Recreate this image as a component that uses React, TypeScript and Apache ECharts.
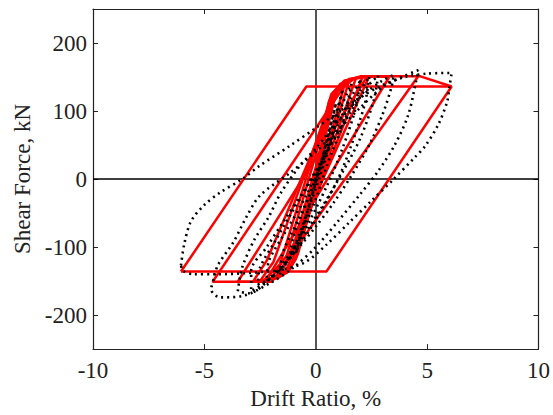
import React, { useEffect, useRef } from "react";
import * as echarts from "echarts";

// ---- Axis settings ----
const xTicks = [-10, -5, 0, 5, 10];
const yTicks = [-200, -100, 0, 100, 200];

// ---- Analytical model (red, solid) loops: [drift %, shear kN] ----
const model1 = [[-6.05, -136], [-0.42, 136], [6.1, 136], [0.48, -136], [-6.05, -136]];
const model2 = [[4.6, 151], [-1.97, -151], [-4.63, -151], [1.47, 146], [2.0, 151], [4.7, 151], [6.1, 136]];
const model3 = [[3.3, 150], [-2.27, -151], [-3.5, -151], [-0.54, 3], [2.25, 148], [2.6, 151], [3.3, 150]];
const model4 = [[2.4, 151], [-1.6, -140], [-1.9, -147], [-2.8, -150], [-2.2, -120], [0.5, 90], [1.0, 130], [1.7, 147], [2.4, 151]];
const model5 = [[1.8, 148], [-1.1, -125], [-1.5, -142], [-2.3, -148], [-1.6, -125], [0.35, 85], [0.7, 125], [1.3, 145], [1.8, 148]];
const model6 = [[1.3, 140], [-0.8, -110], [-1.2, -135], [-1.7, -145], [-1.1, -110], [0.2, 40], [0.5, 100], [0.9, 130], [1.3, 140]];
const model7 = [[0.9, 125], [-0.5, -60], [-1.0, -115], [-0.5, -55], [0.4, 70], [0.9, 125]];
const model8 = [[0.5, 80], [-0.3, -30], [-0.55, -78], [0.25, 25], [0.5, 80]];
const model9 = [[2.1, 150], [-1.3, -132], [-1.7, -146], [-2.5, -150], [-1.9, -122], [0.45, 95], [0.8, 128], [1.5, 147], [2.1, 150]];
const model10 = [[1.5, 145], [-0.9, -118], [-1.3, -138], [-2.0, -146], [-1.3, -112], [0.3, 70], [0.6, 115], [1.1, 140], [1.5, 145]];

// ---- Test (black, dotted) loops ----
const test1 = [
  [-6.05, -127], [-5.9, -95], [-5.6, -62], [-5.0, -38], [-4.3, -20], [-3.3, 0], [-2.5, 20], [-1.2, 48],
  [0, 75], [1, 98], [2, 120], [3, 138], [4, 150], [5, 155], [6.1, 156],
  [6.0, 135], [5.9, 114], [5.5, 80], [4.9, 48], [4.45, 32], [3.5, 0], [2.5, -32], [1.5, -64], [0.5, -96],
  [-0.46, -122], [-1.5, -133], [-3, -138], [-4.5, -140], [-5.5, -140], [-5.95, -135], [-6.05, -127],
];
const test2 = [
  [-4.6, -150], [-4.4, -127], [-3.7, -93], [-3.1, -55], [-2.5, -24], [-1.2, 8], [0, 40], [1, 72], [2, 105],
  [3, 135], [4, 152], [4.6, 160],
  [4.5, 143], [4.15, 94], [3.56, 51], [2.81, 12], [2, -22], [1, -62], [0, -100], [-1, -130], [-2, -152],
  [-3.3, -172], [-4.3, -174], [-4.7, -162], [-4.6, -150],
];
const test3 = [
  [-3.5, -165], [-3.3, -130], [-2.77, -90], [-2.1, -55], [-1.58, -21], [-0.7, 20], [0, 45], [1, 85],
  [2, 120], [3, 145], [3.5, 153],
  [3.4, 135], [3.0, 95], [2.4, 50], [1.6, 5], [0.8, -35], [0, -70], [-1, -110], [-2, -145], [-3, -168], [-3.5, -165],
];
const test4 = [
  [2.4, 150], [2.2, 110], [1.6, 50], [1, 0], [0, -60], [-1, -110], [-2, -145], [-2.6, -155],
  [-2.5, -130], [-1.8, -90], [-1, -45], [0, 10], [1, 70], [2, 130], [2.4, 150],
];
const test5 = [
  [1.6, 140], [1.2, 80], [0.5, 20], [0, -30], [-0.8, -90], [-1.6, -140],
  [-1.5, -110], [-0.8, -60], [0, -5], [0.6, 50], [1.2, 110], [1.6, 140],
];
const test6 = [[0.9, 110], [0.3, 30], [-0.3, -40], [-0.9, -110], [-0.4, -50], [0.2, 20], [0.9, 110]];
const test7 = [
  [2.0, 145], [1.8, 105], [1.2, 45], [0.5, -10], [-0.5, -75], [-1.5, -125], [-2.2, -150],
  [-2.1, -120], [-1.4, -80], [-0.6, -35], [0.3, 25], [1.2, 95], [2.0, 145],
];
const test8 = [[1.2, 130], [0.8, 70], [0.2, 5], [-0.5, -60], [-1.2, -120], [-1.0, -85], [-0.3, -25], [0.4, 40], [1.2, 130]];
const test9 = [
  [2.8, 152], [2.6, 115], [2.0, 60], [1.2, 10], [0.3, -40], [-0.8, -95], [-1.8, -140], [-2.9, -165],
  [-2.9, -135], [-2.2, -100], [-1.4, -60], [-0.5, -15], [0.5, 40], [1.5, 95], [2.3, 135], [2.8, 152],
];

const modelLoops = [model1, model2, model3, model4, model9, model5, model10, model6, model7, model8];
const testLoops = [test1, test2, test3, test9, test4, test7, test5, test8, test6];

const FONT = "Liberation Serif";
const TEXT = "#222";

export default function App() {
  const ref = useRef<HTMLDivElement>(null);
  useEffect(() => {
    if (!ref.current) return;
    const chart = echarts.init(ref.current, undefined, { renderer: "svg" });
    const labelStyle = { fontFamily: FONT, fontSize: 23, color: TEXT };
    const series: any[] = [];
    modelLoops.forEach((d, i) => {
      series.push({
        type: "line",
        data: d,
        showSymbol: false,
        symbol: "none",
        lineStyle: { color: "#ff0000", width: 2.5 },
        z: 2,
        markLine:
          i === 0
            ? {
                silent: true,
                symbol: "none",
                label: { show: false },
                z: 1,
                data: [
                  { xAxis: 0, lineStyle: { color: "#555", width: 2, type: "solid" } },
                  { yAxis: 0, lineStyle: { color: "#000", width: 1.5, type: "solid" } },
                ],
              }
            : undefined,
      });
    });
    testLoops.forEach((d) => {
      series.push({
        type: "line",
        data: d,
        showSymbol: false,
        symbol: "none",
        smooth: 0.3,
        lineStyle: { color: "#000", width: 2.6, type: [2, 4], cap: "butt" },
        z: 3,
      });
    });
    chart.setOption({
      animation: false,
      backgroundColor: "#fff",
      grid: { left: 93, right: 12, top: 9, bottom: 60, containLabel: false },
      xAxis: [
        {
          type: "value",
          min: -10,
          max: 10,
          interval: 5,
          position: "bottom",
          axisLine: { show: true, onZero: false, lineStyle: { color: "#222", width: 1.2 } },
          axisTick: { show: true, inside: true, length: 5, lineStyle: { color: "#222" } },
          axisLabel: { ...labelStyle, margin: 10, customValues: xTicks },
          splitLine: { show: false },
          name: "Drift Ratio, %",
          nameLocation: "middle",
          nameGap: 36,
          nameTextStyle: labelStyle,
        },
        {
          type: "value",
          min: -10,
          max: 10,
          interval: 5,
          position: "top",
          axisLine: { show: true, onZero: false, lineStyle: { color: "#222", width: 1.2 } },
          axisTick: { show: true, inside: true, length: 5, lineStyle: { color: "#222" } },
          axisLabel: { show: false },
          splitLine: { show: false },
        },
      ],
      yAxis: [
        {
          type: "value",
          min: -250,
          max: 250,
          position: "left",
          axisLine: { show: true, onZero: false, lineStyle: { color: "#222", width: 1.2 } },
          axisTick: { show: true, inside: true, length: 5, customValues: yTicks, lineStyle: { color: "#222" } },
          axisLabel: { ...labelStyle, margin: 6, customValues: yTicks },
          splitLine: { show: false },
          name: "Shear Force, kN",
          nameLocation: "middle",
          nameGap: 58,
          nameTextStyle: labelStyle,
        },
        {
          type: "value",
          min: -250,
          max: 250,
          position: "right",
          axisLine: { show: true, onZero: false, lineStyle: { color: "#222", width: 1.2 } },
          axisTick: { show: true, inside: true, length: 5, customValues: yTicks, lineStyle: { color: "#222" } },
          axisLabel: { show: false },
          splitLine: { show: false },
        },
      ],
      series,
    });
    return () => chart.dispose();
  }, []);
  return (
    <div
      ref={ref}
      style={{ position: "fixed", left: 0, top: 0, width: 553, height: 415, background: "#fff" }}
    />
  );
}
